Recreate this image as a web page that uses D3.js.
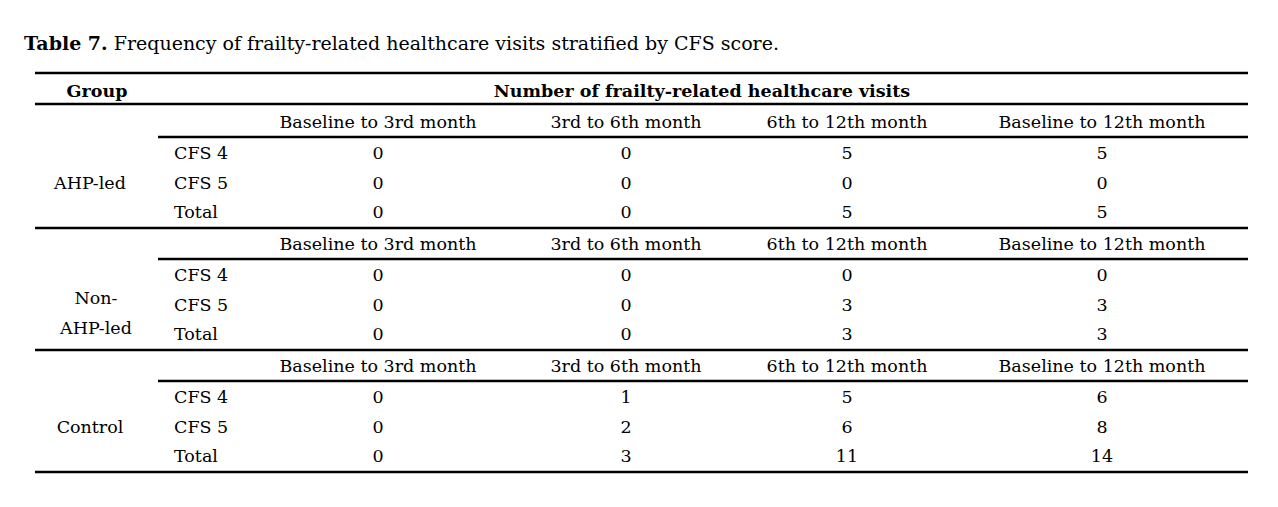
<!DOCTYPE html>
<html lang="en">
<head>
<meta charset="utf-8">
<script src="https://d3js.org/d3.v7.min.js"></script>
<style>body{margin:0;background:#fff}</style>
</head>
<body>
<div id="chart"></div>
<script>
// table data
const groups = ["AHP-led", "Non-AHP-led", "Control"];
const periods = ["Baseline to 3rd month", "3rd to 6th month", "6th to 12th month", "Baseline to 12th month"];
const rowLabels = ["CFS 4", "CFS 5", "Total"];
const ahpValues = [[0, 0, 5, 5], [0, 0, 0, 0], [0, 0, 5, 5]];
const nonAhpValues = [[0, 0, 0, 0], [0, 0, 3, 3], [0, 0, 3, 3]];
const controlValues = [[0, 1, 5, 6], [0, 2, 6, 8], [0, 3, 11, 14]];
const allValues = [ahpValues, nonAhpValues, controlValues];

const W = 1278, H = 507, font = "DejaVu Serif", fs = 17.5;
const svg = d3.select("#chart").append("svg").attr("width", W).attr("height", H)
  .style("font-family", font).style("font-size", fs + "px");

const tblLeft = 35, tblRight = 1248, tblTop = 73;
const colX = d3.scaleOrdinal(periods, [378, 626, 847, 1102]);
const groupY = d3.scaleLinear().domain([0, 1]).range([104, 226]);

// title
const t = svg.append("text").attr("x", 24).attr("y", 50).style("font-size", "19px");
t.append("tspan").attr("font-weight", "bold").text("Table 7.");
t.append("tspan").text(" Frequency of frailty-related healthcare visits stratified by CFS score.");

function hline(y, x0, w) {
  svg.append("line").attr("x1", x0).attr("x2", tblRight).attr("y1", y).attr("y2", y)
    .attr("stroke", "#000").attr("stroke-width", w);
}
hline(tblTop, tblLeft, 2.5);
hline(104, tblLeft, 2.5);

svg.append("text").attr("x", 97).attr("y", 97).attr("text-anchor", "middle")
  .attr("font-weight", "bold").text("Group");
svg.append("text").attr("x", 702).attr("y", 97).attr("text-anchor", "middle")
  .attr("font-weight", "bold").text("Number of frailty-related healthcare visits");

groups.forEach((g, gi) => {
  const y0 = groupY(gi);
  periods.forEach(p => svg.append("text").attr("x", colX(p)).attr("y", y0 + 24)
    .attr("text-anchor", "middle").text(p));
  hline(y0 + 33, 158, 2.5);
  rowLabels.forEach((r, ri) => {
    const y = y0 + 55 + ri * 29.5;
    svg.append("text").attr("x", 174).attr("y", y).text(r);
    allValues[gi][ri].forEach((v, ci) => svg.append("text").attr("x", colX(periods[ci])).attr("y", y)
      .attr("text-anchor", "middle").text(v));
  });
  const gy = y0 + 85;
  if (g === "Non-AHP-led") {
    svg.append("text").attr("x", 96).attr("y", gy - 7).attr("text-anchor", "middle").text("Non-");
    svg.append("text").attr("x", 96).attr("y", gy + 23).attr("text-anchor", "middle").text("AHP-led");
  } else {
    svg.append("text").attr("x", 90).attr("y", gy).attr("text-anchor", "middle").text(g);
  }
  hline(groupY(gi + 1) + 2, tblLeft, 2.5);
});
</script>
</body>
</html>
